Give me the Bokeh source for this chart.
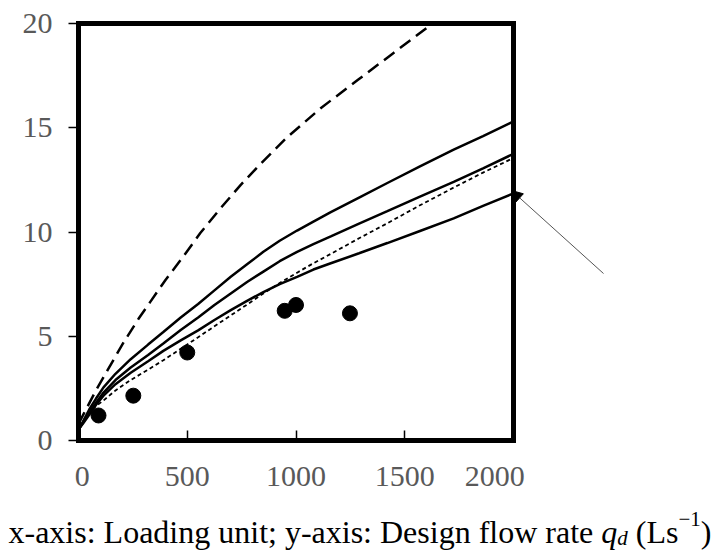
from bokeh.plotting import figure
from bokeh.models import Range1d, FixedTicker, Label, Arrow, NormalHead
from bokeh.embed import file_html
from bokeh.resources import INLINE

# ---- data ----
x_ticks = [0, 500, 1000, 1500, 2000]
y_ticks = [0, 5, 10, 15, 20]

lu_grid = [5, 20, 50, 80, 115, 170, 240, 320, 390, 470, 550, 625, 700, 775, 850,
           925, 1005, 1080, 1160, 1290, 1420, 1570, 1725, 1860, 2000]
curve_a_q = [0.6, 0.9, 1.5, 2.0, 2.55, 3.2, 3.9, 4.6, 5.2, 5.9, 6.55, 7.2, 7.85, 8.45, 9.05,
             9.58, 10.07, 10.5, 10.95, 11.65, 12.35, 13.15, 13.95, 14.6, 15.3]
curve_b_q = [0.6, 0.85, 1.35, 1.8, 2.3, 2.9, 3.5, 4.1, 4.65, 5.3, 5.9, 6.5, 7.05, 7.6, 8.1,
             8.6, 9.05, 9.42, 9.79, 10.4, 11.0, 11.7, 12.4, 13.05, 13.75]
curve_c_q = [0.6, 0.8, 1.25, 1.7, 2.15, 2.7, 3.25, 3.8, 4.3, 4.8, 5.28, 5.78, 6.25, 6.7, 7.12,
             7.5, 7.85, 8.2, 8.5, 8.98, 9.47, 10.05, 10.65, 11.25, 11.85]

curve_d_lu = [40, 80, 115, 170, 240, 320, 390, 470, 550, 625, 700, 775, 850, 925, 1005,
              1080, 1160, 1290, 1420, 1570, 1725, 1860, 2000]
curve_d_q = [1.3, 1.65, 1.92, 2.4, 2.9, 3.4, 3.85, 4.4, 4.95, 5.48, 6.0, 6.52, 7.05, 7.55, 8.05,
             8.5, 8.95, 9.7, 10.42, 11.28, 12.13, 12.85, 13.55]

curve_e_lu = [0, 25, 80, 135, 210, 280, 330, 400, 480, 560, 650, 745, 840, 960, 1115,
              1285, 1450, 1628]
curve_e_q = [0.8, 1.3, 2.4, 3.4, 4.75, 5.9, 6.65, 7.7, 8.8, 9.95, 11.1, 12.25, 13.3, 14.55, 15.95,
             17.3, 18.6, 20.0]

obs_lu = [92, 252, 500, 948, 1000, 1248]
obs_q = [1.2, 2.15, 4.22, 6.22, 6.5, 6.1]

SERIF = "Liberation Serif"
W, H = 715, 552

# ---- layout: the chart box spans 0..2000 x 0..20 at these canvas pixels ----
BOX_L, BOX_R, BOX_T, BOX_B = 78, 513, 23, 440
ppx = (BOX_R - BOX_L) / 2000.0
ppy = (BOX_B - BOX_T) / 20.0
def dx(px):
    return (px - BOX_L) / ppx
def dy(py):
    return (BOX_B - py) / ppy

p = figure(width=W, height=H, output_backend="svg", toolbar_location=None,
           x_range=Range1d(dx(0), dx(W)), y_range=Range1d(dy(H), dy(0)),
           min_border=0, min_border_left=0, min_border_right=0,
           min_border_top=0, min_border_bottom=0)
p.background_fill_color = "white"
p.border_fill_color = "white"
p.outline_line_color = None
p.xgrid.visible = False
p.ygrid.visible = False

for ax in (p.xaxis[0], p.yaxis[0]):
    ax.fixed_location = 0
    ax.axis_line_color = "black"
    ax.axis_line_width = 5
    ax.axis_line_cap = "square"
    ax.minor_tick_line_color = None
    ax.major_tick_line_color = "black"
    ax.major_tick_line_width = 1.5
    ax.major_label_text_font = SERIF
    ax.major_label_text_font_size = "30px"
    ax.major_label_text_color = "#595959"

p.xaxis.bounds = (0, 2000)
p.yaxis.bounds = (0, 20)
p.xaxis.ticker = FixedTicker(ticks=x_ticks)
p.yaxis.ticker = FixedTicker(ticks=y_ticks)
p.xaxis.major_label_overrides = {0: "\u00a00", 2000: "2000\u00a0\u00a0\u00a0\u00a0\u00a0"}
p.xaxis.major_tick_in = 10
p.xaxis.major_tick_out = 0
p.xaxis.major_label_standoff = 18
p.yaxis.major_tick_in = 0
p.yaxis.major_tick_out = 10
p.yaxis.major_label_standoff = 16

# top and right edges of the box
p.segment(x0=[0, 2000], y0=[20, 0], x1=[2000, 2000], y1=[20, 20],
          line_color="black", line_width=5, line_cap="square")

p.line(curve_e_lu, curve_e_q, line_color="black", line_width=2.5, line_dash="13 7")
p.line(lu_grid, curve_a_q, line_color="black", line_width=2.5)
p.line(lu_grid, curve_b_q, line_color="black", line_width=2.5)
p.line(curve_d_lu, curve_d_q, line_color="black", line_width=1.8, line_dash="4 3")
p.line(lu_grid, curve_c_q, line_color="black", line_width=2.5)
p.scatter(obs_lu, obs_q, size=15, marker="circle", fill_color="black", line_color="black")

# pointer arrow
p.add_layout(Arrow(x_start=dx(603), y_start=dy(273), x_end=dx(511), y_end=dy(190),
                   line_color="#555555", line_width=1,
                   end=NormalHead(size=11, fill_color="black", line_color="black")))

# caption
def cap(text, cx, cy, size, style="normal"):
    p.add_layout(Label(x=dx(cx), y=dy(cy), text=text, text_font=SERIF,
                       text_font_size=size, text_font_style=style, text_color="black",
                       text_align="left", text_baseline="alphabetic"))

cap("x-axis: Loading unit; y-axis: Design flow rate", 8, 531, "32px")
cap("q", 600.8, 531, "32px", "italic")
cap("d", 616.8, 537, "21px", "italic")
cap("(Ls", 635.3, 531, "32px")
cap("\u22121", 678, 518, "21px")
cap(")", 700.3, 531, "32px")

open("out.html", "w").write(file_html(p, INLINE))
